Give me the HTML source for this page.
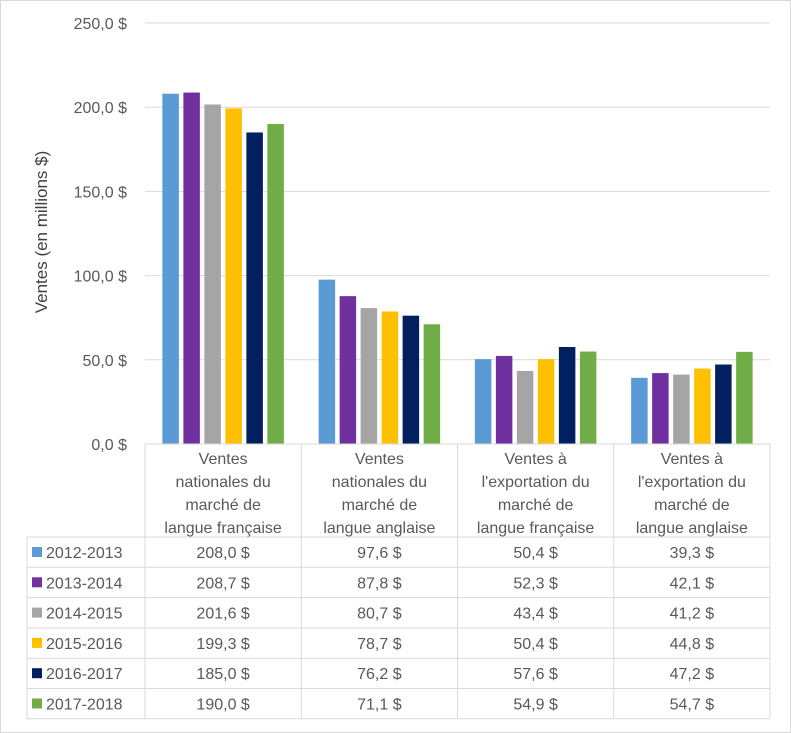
<!DOCTYPE html>
<html><head><meta charset="utf-8"><style>
body{margin:0;background:#fff;}
svg{display:block;font-family:"Liberation Sans",sans-serif;}
</style></head><body>
<svg id="c" width="791" height="733">
<rect x="0.5" y="0.5" width="790" height="732" fill="#fff" stroke="#d9d9d9"/>
<text transform="translate(47,232) rotate(-90)" text-anchor="middle" font-size="17" fill="#404040">Ventes (en millions $)</text>
<g id="grid"></g><g id="bars"></g><g id="table"></g>
</svg>
<script>
const categories=[["Ventes","nationales du","marché de","langue française"],["Ventes","nationales du","marché de","langue anglaise"],["Ventes à","l'exportation du","marché de","langue française"],["Ventes à","l'exportation du","marché de","langue anglaise"]];
const seriesNames=["2012-2013","2013-2014","2014-2015","2015-2016","2016-2017","2017-2018"];
const s2012=[208.0,97.6,50.4,39.3];
const s2013=[208.7,87.8,52.3,42.1];
const s2014=[201.6,80.7,43.4,41.2];
const s2015=[199.3,78.7,50.4,44.8];
const s2016=[185.0,76.2,57.6,47.2];
const s2017=[190.0,71.1,54.9,54.7];
const yTicks=[0,50,100,150,200,250];
const series=[s2012,s2013,s2014,s2015,s2016,s2017];
const colors=["#5b9bd5","#7030a0","#a5a5a5","#ffc000","#002060","#70ad47"];
const NS="http://www.w3.org/2000/svg";
const X0=145,X1=770,Y0=444,Y1=23,YMAX=250;
const cw=(X1-X0)/categories.length;
const y=v=>Y0-(v/YMAX)*(Y0-Y1);
const fmt=v=>v.toFixed(1).replace('.',',')+' $';
function mk(tag,attrs,parent){const e=document.createElementNS(NS,tag);for(const k in attrs)e.setAttribute(k,attrs[k]);parent.appendChild(e);return e;}
const grid=document.getElementById('grid'),bars=document.getElementById('bars'),table=document.getElementById('table');
yTicks.forEach(t=>{
 if(t>0){const l=mk('line',{x1:X0,x2:X1,y1:y(t),y2:y(t),stroke:'#d9d9d9','stroke-width':1},grid);
 
 }
 const tx=mk('text',{x:127,y:y(t)+6,'text-anchor':'end','font-size':16,fill:'#595959'},grid);
 tx.textContent=fmt(t);
 
 
});
const bw=16.5,pitch=21;
series.forEach((s,si)=>{s.forEach((v,ci)=>{
 const gx=X0+cw*ci+cw/2-(pitch*5+bw)/2+si*pitch;
 const r=mk('rect',{x:gx,y:y(v),width:bw,height:Y0-y(v),fill:colors[si]},bars);
 
 
});});
const TL=27,HB=537,RH=30.3,st='#d9d9d9';
mk('line',{x1:X0,x2:X0,y1:Y0,y2:HB+RH*6,stroke:st},table);
for(let i=1;i<=4;i++)mk('line',{x1:X0+cw*i,x2:X0+cw*i,y1:Y0,y2:HB+RH*6,stroke:st},table);
mk('line',{x1:X0,x2:X1,y1:Y0,y2:Y0,stroke:st},table);
mk('line',{x1:TL,x2:TL,y1:HB,y2:HB+RH*6,stroke:st},table);
for(let r=0;r<=6;r++)mk('line',{x1:TL,x2:X1,y1:HB+RH*r,y2:HB+RH*r,stroke:st},table);
categories.forEach((c,ci)=>{c.forEach((ln,li)=>{
 const t=mk('text',{x:X0+cw*ci+cw/2,y:Y0+20+li*23,'text-anchor':'middle','font-size':16,fill:'#595959'},table);
 t.textContent=ln;
 
 
});});
series.forEach((s,si)=>{
 const ry=HB+RH*si;
 const m=mk('rect',{x:32,y:ry+10,width:10,height:10,fill:colors[si]},table);
 
 
 const n=mk('text',{x:46,y:ry+21,'font-size':16,fill:'#595959'},table);
 n.textContent=seriesNames[si];
 
 
 s.forEach((v,ci)=>{
  const t=mk('text',{x:X0+cw*ci+cw/2,y:ry+21,'text-anchor':'middle','font-size':16,fill:'#595959'},table);
  t.textContent=fmt(v);
  
  
 });
});
</script>
</body></html>
